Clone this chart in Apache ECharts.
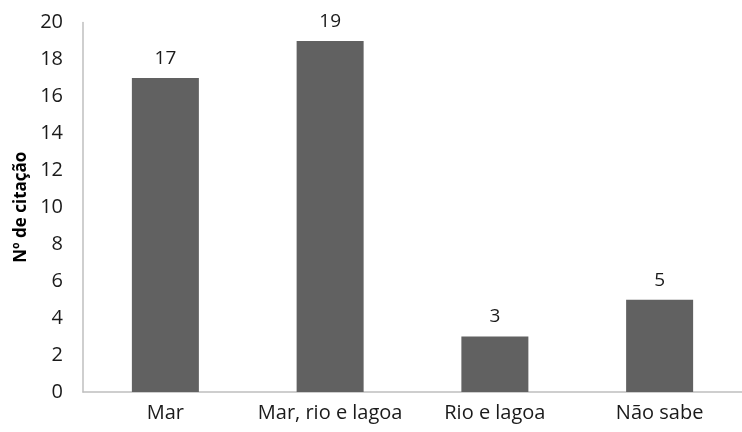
<!DOCTYPE html>
<html><head><meta charset="utf-8">
<script src="https://cdn.jsdelivr.net/npm/echarts@6/dist/echarts.min.js"></script>
<style>html,body{margin:0;padding:0;background:#fff}#c{width:742px;height:432px}</style>
</head><body><div id="c"></div>
<script>
const categories = ["Mar", "Mar, rio e lagoa", "Rio e lagoa", "Não sabe"];
const values = [17, 19, 3, 5];
const yName = "Nº de citação";
const font = "'Open Sans', sans-serif";
const chart = echarts.init(document.getElementById('c'));
chart.setOption({
  animation: false,
  grid: {left: 83, right: -8, top: 22.5, bottom: 40},
  xAxis: {
    type: 'category', data: categories,
    axisLine: {lineStyle: {color: '#bfbfbf', width: 1.5}},
    axisTick: {show: false},
    axisLabel: {interval: 0, color: '#1a1a1a', fontSize: 20, fontFamily: font, margin: 11}
  },
  yAxis: {
    type: 'value', min: 0, max: 20, interval: 2,
    name: yName, nameLocation: 'middle', nameGap: 52,
    nameTextStyle: {color: '#000', fontSize: 17, fontWeight: 'bold', fontFamily: font},
    axisLine: {show: true, lineStyle: {color: '#bfbfbf', width: 1.5}},
    axisTick: {show: false},
    splitLine: {show: false},
    axisLabel: {color: '#1a1a1a', fontSize: 20, fontFamily: font, margin: 20}
  },
  series: [{
    type: 'bar', data: values, barWidth: 67,
    itemStyle: {color: '#616161'},
    label: {show: true, position: 'top', distance: 10, color: '#1a1a1a', fontSize: 19, fontFamily: font}
  }]
});
</script></body></html>
